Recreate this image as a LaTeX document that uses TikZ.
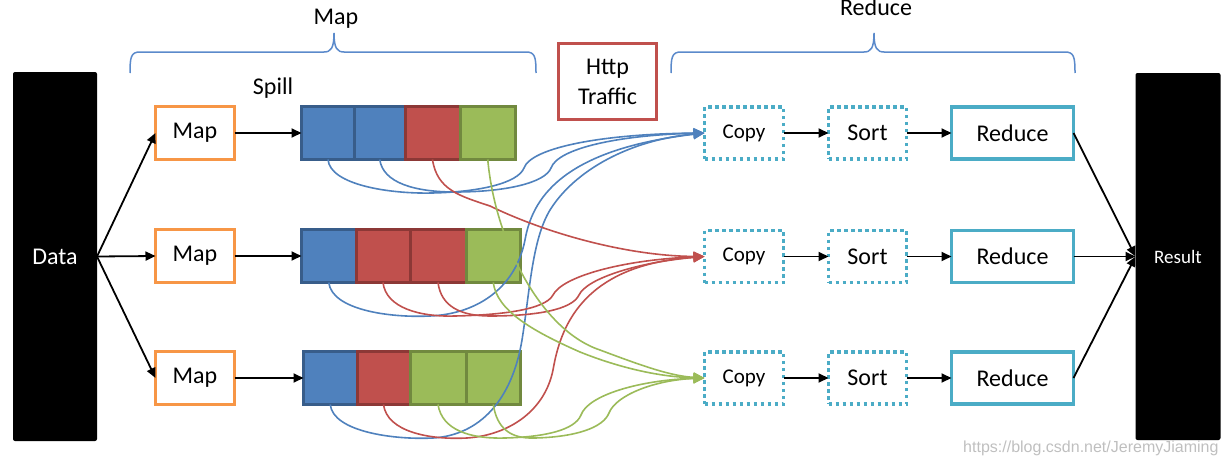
\documentclass[tikz,border=0pt]{standalone}
\usepackage{fontspec}
\setmainfont{Carlito}
\newfontfamily\wmfont{Liberation Sans}
\usetikzlibrary{arrows.meta}
\definecolor{cblue}{HTML}{4F81BD}
\definecolor{cblueD}{HTML}{385D8A}
\definecolor{cred}{HTML}{C0504D}
\definecolor{credD}{HTML}{8C3836}
\definecolor{cgreen}{HTML}{9BBB59}
\definecolor{cgreenD}{HTML}{71893F}
\definecolor{corange}{HTML}{F79646}
\definecolor{cteal}{HTML}{4BACC6}
\definecolor{cbrace}{HTML}{5B8ACB}
\tikzset{
  big/.style={font=\fontsize{24}{30}\selectfont},
  blackbox/.style={fill=black, rounded corners=2pt, inner sep=0pt, outer sep=0pt, text=white},
  mapbox/.style={draw=corange, line width=3pt, minimum width=79pt, minimum height=53pt, inner sep=0pt, outer sep=0pt, big},
  copybox/.style={draw=cteal, line width=3.5pt, dash pattern=on 3.5pt off 3.5pt, minimum width=79pt, minimum height=52pt, inner sep=0pt, outer sep=0pt, font=\fontsize{21}{25}\selectfont},
  sortbox/.style={copybox, minimum width=78pt, big},
  redbox/.style={draw=cteal, line width=3.5pt, minimum width=122pt, minimum height=52pt, inner sep=0pt, outer sep=0pt, big},
  cell/.style={line width=3pt, inner sep=0pt, outer sep=0pt, minimum height=53pt},
  bcell/.style={cell, fill=cblue, draw=cblueD},
  rcell/.style={cell, fill=cred, draw=credD},
  gcell/.style={cell, fill=cgreen, draw=cgreenD},
  conn/.style={line width=1.8pt, -{Triangle[length=10pt,width=9pt]}},
  flow/.style={line width=1.6pt, -{Triangle[length=11pt,width=10pt]}},
  bflow/.style={flow, draw=cblue},
  rflow/.style={flow, draw=cred},
  gflow/.style={flow, draw=cgreen},
  bracestyle/.style={draw=cbrace, line width=1.5pt},
}
\begin{document}
\begin{tikzpicture}[x=1pt,y=-1pt]
\useasboundingbox (0,0) rectangle (1229,463);

% braces and titles
\draw[bracestyle] (130,73) .. controls (130,57) and (131,52) .. (140,52) -- (324,52) .. controls (331,52) and (334,48) .. (334,33) .. controls (334,48) and (337,52) .. (344,52) -- (526,52) .. controls (535,52) and (536,57) .. (536,73);
\draw[bracestyle] (671,73) .. controls (671,57) and (672,52) .. (681,52) -- (864,52) .. controls (871,52) and (874,48) .. (874,33) .. controls (874,48) and (877,52) .. (884,52) -- (1065,52) .. controls (1074,52) and (1075,57) .. (1075,73);
\node[big, anchor=base] (tmap) at (336,24) {Map};
\node[big, anchor=base] (tred) at (876,16) {Reduce};
\node[big, anchor=base] (tspill) at (273,94) {Spill};

% Http traffic
\node[draw=cred, line width=3pt, minimum width=98pt, minimum height=76pt, inner sep=0pt, align=center, big] (http) at (607.5,81.5) {Http\\Traffic};

% Data / Result
\node[blackbox, minimum width=84pt, minimum height=369pt, big] (data) at (55,256.5) {Data};
\node[blackbox, minimum width=85pt, minimum height=367pt, font=\fontsize{19}{23}\selectfont] (result) at (1178,256.5) {Result};

% Map boxes
\node[mapbox] (m1) at (195,133) {Map};
\node[mapbox] (m2) at (195,256) {Map};
\node[mapbox] (m3) at (195,378) {Map};

% Spill bars
\node[bcell, minimum width=53pt]   (s1a) at (328,133) {};
\node[bcell, minimum width=50.5pt] (s1b) at (379.75,133) {};
\node[rcell, minimum width=55pt]   (s1c) at (432.5,133) {};
\node[gcell, minimum width=55.5pt] (s1d) at (487.75,133) {};

\node[bcell, minimum width=54.5pt] (s2a) at (328.75,256) {};
\node[rcell, minimum width=54pt]   (s2b) at (383,256) {};
\node[rcell, minimum width=56pt]   (s2c) at (438,256) {};
\node[gcell, minimum width=54.5pt] (s2d) at (493.25,256) {};

\node[bcell, minimum width=53.5pt] (s3a) at (330.25,378) {};
\node[rcell, minimum width=53pt]   (s3b) at (383.5,378) {};
\node[gcell, minimum width=56pt]   (s3c) at (438,378) {};
\node[gcell, minimum width=54.5pt] (s3d) at (493.25,378) {};

% Reduce side
\node[copybox] (c1) at (744,133) {Copy};
\node[copybox] (c2) at (744,256.5) {Copy};
\node[copybox] (c3) at (744,378) {Copy};
\node[sortbox] (o1) at (867.5,133) {Sort};
\node[sortbox] (o2) at (867.5,256.5) {Sort};
\node[sortbox] (o3) at (867.5,378) {Sort};
\node[redbox] (r1) at (1012.5,133) {Reduce};
\node[redbox] (r2) at (1012.5,256.5) {Reduce};
\node[redbox] (r3) at (1012.5,378) {Reduce};

% black connectors
\draw[conn] (data.east) -- (m1.west);
\draw[conn] (data.east) -- (m2.west);
\draw[conn] (data.east) -- (m3.west);
\draw[conn] (m1.east) -- (s1a.west);
\draw[conn] (m2.east) -- (s2a.west);
\draw[conn] (m3.east) -- (s3a.west);
\foreach \i in {1,2,3}{
  \draw[conn] (c\i.east) -- (o\i.west);
  \draw[conn] (o\i.east) -- (r\i.west);
  \draw[conn] (r\i.east) -- (result.west);
}

% blue flows to Copy 1
\draw[bflow] (s1a.south) .. controls (330,185) and (390,194) .. (432,193) .. controls (480,192) and (518,183) .. (524,168) .. controls (531,148) and (600,134) .. (c1.west);
\draw[bflow] (s1b.south) .. controls (383,183) and (415,192) .. (455,192) .. controls (505,192) and (545,183) .. (551,168) .. controls (558,148) and (620,135) .. (c1.west);
\draw[bflow] (s2a.south) .. controls (332,310) and (390,318) .. (430,316) .. controls (475,314) and (515,290) .. (525,240) .. controls (532,200) and (560,150) .. (c1.west);
\draw[bflow] (s3a.south) .. controls (333,432) and (395,440) .. (433,438) .. controls (480,435) and (512,400) .. (522,340) .. controls (530,290) and (532,240) .. (550,210) .. controls (575,170) and (630,140) .. (c1.west);

% red flows to Copy 2
\draw[rflow] (s1c.south) .. controls (437,190) and (460,196) .. (490,206) .. controls (550,235) and (630,256) .. (c2.west);
\draw[rflow] (s2b.south) .. controls (386,308) and (420,317) .. (455,316) .. controls (500,315) and (545,310) .. (553,295) .. controls (562,277) and (620,260) .. (c2.west);
\draw[rflow] (s2c.south) .. controls (441,306) and (460,316) .. (490,316) .. controls (535,316) and (572,310) .. (579,295) .. controls (587,278) and (640,262) .. (c2.west);
\draw[rflow] (s3b.south) .. controls (387,432) and (430,440) .. (467,438) .. controls (510,435) and (545,410) .. (553,370) .. controls (560,330) and (580,265) .. (c2.west);

% green flows to Copy 3
\draw[gflow] (s1d.south) .. controls (495,240) and (540,330) .. (600,350) .. controls (640,365) and (670,376) .. (c3.west);
\draw[gflow] (s2d.south) .. controls (497,310) and (530,330) .. (580,352) .. controls (620,368) and (660,377) .. (c3.west);
\draw[gflow] (s3c.south) .. controls (442,430) and (470,439) .. (505,438) .. controls (545,437) and (575,430) .. (581,415) .. controls (588,395) and (640,380) .. (c3.west);
\draw[gflow] (s3d.south) .. controls (497,428) and (510,439) .. (535,438) .. controls (575,437) and (603,428) .. (609,413) .. controls (616,395) and (655,380) .. (c3.west);

% watermark
\node[anchor=base east, text=black!25, font=\wmfont\fontsize{16}{18}\selectfont] (wm) at (1222,452) {https://blog.csdn.net/JeremyJiaming};
\end{tikzpicture}
\end{document}
